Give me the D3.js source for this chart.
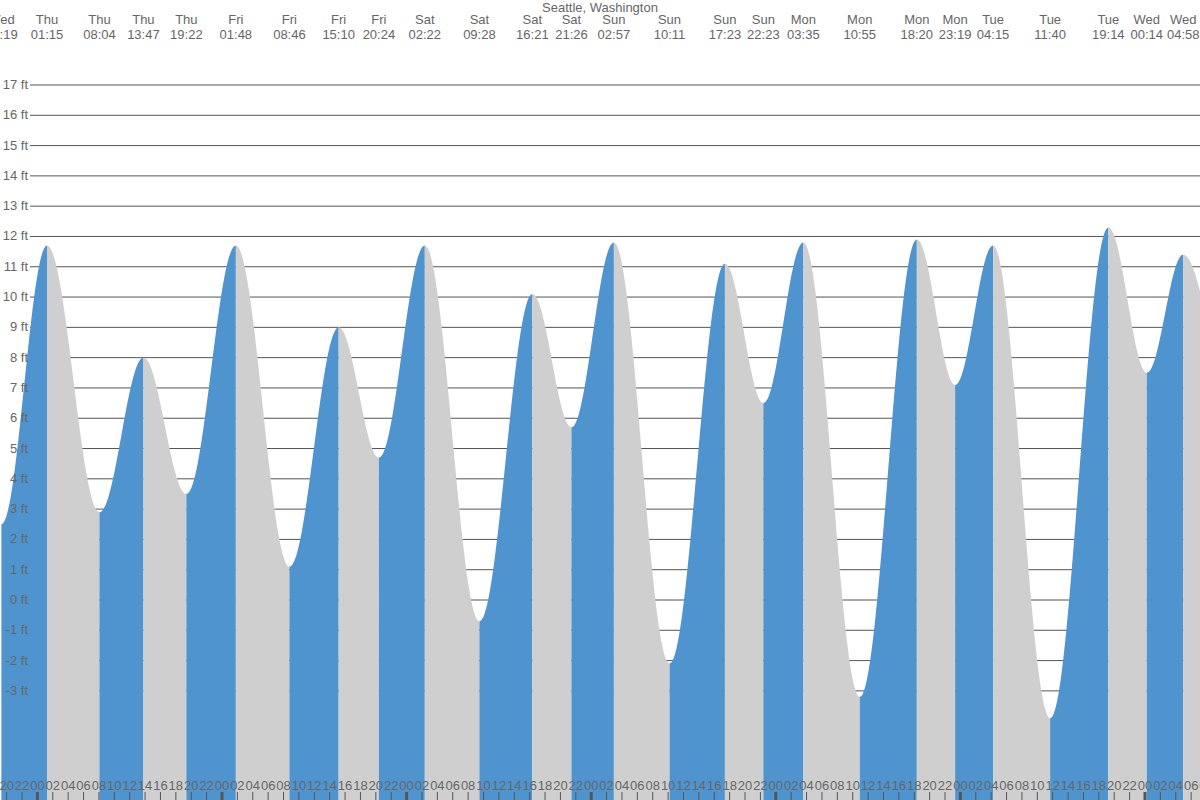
<!DOCTYPE html>
<html><head><meta charset="utf-8">
<script src="https://cdn.jsdelivr.net/npm/d3@7"></script>
<style>body{margin:0;background:#fff}svg text{font-family:"Liberation Sans",Arial,sans-serif;fill:#666}</style>
</head><body><div id="chart"></div>
<script>
// tide extremes, hours from Thu 00:00
var dayNames = ['Wed','Thu','Fri','Sat','Sun','Mon','Tue','Wed'];
var extremeTimes = ['Wed 19:19','Thu 01:15','Thu 08:04','Thu 13:47','Thu 19:22','Fri 01:48','Fri 08:46','Fri 15:10','Fri 20:24',
  'Sat 02:22','Sat 09:28','Sat 16:21','Sat 21:26','Sun 02:57','Sun 10:11','Sun 17:23','Sun 22:23','Mon 03:35','Mon 10:55',
  'Mon 18:20','Mon 23:19','Tue 04:15','Tue 11:40','Tue 19:14','Wed 00:14','Wed 04:58','Wed 12:10'];
var extremeHeights = [2.5,11.7,2.9,8.0,3.5,11.7,1.1,9.0,4.7,11.7,-0.7,10.1,5.7,11.8,-2.1,11.1,6.5,11.8,-3.2,11.9,7.1,11.7,-3.9,12.3,7.5,11.4,5.6];
var yTicks = [-3,-2,-1,0,1,2,3,4,5,6,7,8,9,10,11,12,13,14,15,16,17];

var width = 1200, height = 800;
var svg = d3.select('#chart').append('svg').attr('width', width).attr('height', height);

function toHours(s, i) {
  var p = s.split(' '), hm = p[1].split(':');
  var d = dayNames.indexOf(p[0]);
  if (p[0] === 'Wed' && i > 5) d = 7;
  return (d - 1) * 24 + (+hm[0]) + (+hm[1]) / 60;
}
var extremes = extremeTimes.map((t, i) => ({label: t, t: toHours(t, i), h: extremeHeights[i]}));

var x = d3.scaleLinear().domain([0, 24]).range([37.4, 37.4 + 184.6]);
var y = d3.scaleLinear().domain([0, 17]).range([600, 85]);

// grid
var grid = svg.append('g');
yTicks.forEach(function(v) {
  grid.append('line').attr('x1', 30).attr('x2', width).attr('y1', y(v)).attr('y2', y(v))
    .attr('stroke', '#555').attr('stroke-width', 1);
});

// segments between extremes, cosine shape
var area = d3.area().x(d => x(d[0])).y0(height).y1(d => y(d[1]));
for (var i = 0; i < extremes.length - 1; i++) {
  var a = extremes[i], b = extremes[i + 1], pts = [];
  for (var k = 0; k <= 40; k++) {
    var f = k / 40;
    pts.push([a.t + (b.t - a.t) * f, a.h + (b.h - a.h) * (1 - Math.cos(Math.PI * f)) / 2]);
  }
  svg.append('path').attr('d', area(pts)).attr('fill', b.h > a.h ? '#4f94cf' : '#cfcfcf');
}

// y labels
yTicks.forEach(function(v) {
  svg.append('text').attr('x', 28).attr('y', y(v) + 4).attr('text-anchor', 'end')
    .attr('font-size', 13).text(v + ' ft');
});

// top labels
svg.append('text').attr('x', 600).attr('y', 12).attr('text-anchor', 'middle').attr('font-size', 13).text('Seattle, Washington');
extremes.forEach(function(e) {
  var p = e.label.split(' ');
  svg.append('text').attr('x', x(e.t)).attr('y', 24).attr('text-anchor', 'middle').attr('font-size', 13).text(p[0]);
  svg.append('text').attr('x', x(e.t)).attr('y', 39).attr('text-anchor', 'middle').attr('font-size', 13).text(p[1]);
});

// bottom hour axis
var hours = d3.range(-6, 160, 2);
hours.forEach(function(h) {
  var hh = ((h % 24) + 24) % 24;
  svg.append('text').attr('x', x(h)).attr('y', 790).attr('text-anchor', 'middle').attr('font-size', 13)
    .text(String(hh).padStart(2, '0'));
  svg.append('line').attr('x1', x(h)).attr('x2', x(h)).attr('y1', 792).attr('y2', 800)
    .attr('stroke', '#555').attr('stroke-width', hh === 0 ? 3 : 1);
});
</script></body></html>
